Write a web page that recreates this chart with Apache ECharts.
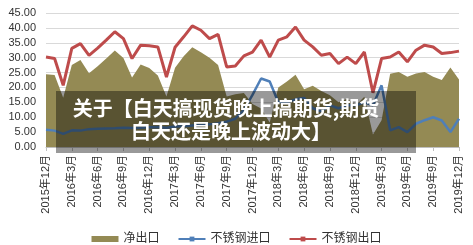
<!DOCTYPE html>
<html>
<head>
<meta charset="utf-8">
<script src="https://cdn.jsdelivr.net/npm/echarts@6/dist/echarts.min.js"></script>
<style>
  html, body { margin: 0; padding: 0; background: #fff; }
  #chart { width: 473px; height: 245px; }
</style>
</head>
<body>
<div id="chart"></div>
<script>
// months, 2015-12 .. 2019-12
var categories = [
  '2015年12月',
  '2016年1月', '2016年2月', '2016年3月', '2016年4月', '2016年5月', '2016年6月',
  '2016年7月', '2016年8月', '2016年9月', '2016年10月', '2016年11月', '2016年12月',
  '2017年1月', '2017年2月', '2017年3月', '2017年4月', '2017年5月', '2017年6月',
  '2017年7月', '2017年8月', '2017年9月', '2017年10月', '2017年11月', '2017年12月',
  '2018年1月', '2018年2月', '2018年3月', '2018年4月', '2018年5月', '2018年6月',
  '2018年7月', '2018年8月', '2018年9月', '2018年10月', '2018年11月', '2018年12月',
  '2019年1月', '2019年2月', '2019年3月', '2019年4月', '2019年5月', '2019年6月',
  '2019年7月', '2019年8月', '2019年9月', '2019年10月', '2019年11月', '2019年12月'
]

var netExport = [
  24.4, 24.2, 16.5, 27.5, 29.2, 24.8, 27.1, 29.7, 32.4, 29.9, 23.3, 27.7, 26.5,
  24.0, 17.0, 26.6, 30.5, 33.5, 31.8, 30.0, 27.5, 17.0, 17.7, 18.1, 14.4,
  12.9, 8.2, 20.0, 22.0, 24.3, 19.4, 20.6, 18.8, 17.4, 15.0, 16.2, 14.0,
  16.9, 4.2, 9.0, 24.6, 25.2, 23.6, 24.7, 25.2, 23.6, 22.5, 26.7, 22.7
]

var importData = [
  5.8, 5.5, 4.4, 5.6, 5.5, 6.0, 6.1, 6.2, 6.3, 6.5, 6.4, 6.5, 6.6,
  6.7, 6.5, 6.9, 7.0, 7.2, 7.4, 7.6, 8.0, 8.5, 9.5, 12.5, 17.5,
  23.0, 22.0, 15.0, 15.0, 16.0, 16.5, 13.0, 12.0, 14.0, 13.0, 14.0, 14.0,
  15.0, 14.0, 20.7, 5.6, 6.7, 5.0, 7.8, 9.0, 10.0, 8.9, 5.0, 9.5
]

var exportData = [
  30.2, 29.7, 20.7, 33.1, 34.7, 30.8, 33.2, 35.9, 38.7, 36.4, 29.7, 34.2, 34.0,
  33.6, 23.5, 33.5, 37.0, 40.7, 39.2, 36.4, 37.8, 26.9, 27.2, 30.6, 31.9,
  35.9, 30.2, 35.9, 37.0, 40.3, 35.9, 33.6, 30.8, 31.4, 28.0, 30.2, 28.0,
  31.9, 18.2, 29.7, 30.2, 31.9, 28.6, 32.5, 34.2, 33.6, 31.4, 31.7, 32.2
]

var seriesNames = ['净出口', '不锈钢进口', '不锈钢出口']
var seriesColors = ['#948a54', '#4f7fb8', '#be4b4b']
var overlayLines = ['关于【白天搞现货晚上搞期货,期货', '白天还是晚上波动大】']

var font = '"Liberation Sans", "Noto Sans CJK SC", sans-serif'
var chart = echarts.init(document.getElementById('chart'))

chart.setOption({
  animation: false,
  grid: {
    left: 46,
    right: 14,
    top: 13,
    bottom: 98
  },
  legend: {
    top: 228,
    left: 'center',
    itemWidth: 27,
    itemHeight: 6,
    itemGap: 18,
    itemStyle: { borderWidth: 0 },
    textStyle: { fontFamily: font, fontSize: 12, color: '#333' },
    data: [
      { name: seriesNames[0], icon: 'rect' },
      { name: seriesNames[1] },
      { name: seriesNames[2] }
    ]
  },
  xAxis: {
    type: 'category',
    data: categories,
    boundaryGap: false,
    axisLine: { lineStyle: { color: '#bfbfbf' } },
    axisTick: { interval: 2, length: 4, lineStyle: { color: '#bfbfbf' } },
    axisLabel: {
      interval: 2,
      rotate: 90,
      margin: 8,
      fontFamily: font,
      fontSize: 11,
      color: '#333'
    },
    splitLine: { show: false }
  },
  yAxis: {
    type: 'value',
    min: 0,
    max: 45,
    interval: 5,
    axisLine: { show: false },
    axisTick: { show: false },
    axisLabel: {
      margin: 10,
      fontFamily: font,
      fontSize: 11,
      color: '#333',
      formatter: function (v) { return v.toFixed(2) }
    },
    splitLine: { lineStyle: { color: '#d9d9d9' } }
  },
  series: [
    {
      name: seriesNames[0],
      type: 'line',
      data: netExport,
      symbol: 'none',
      color: seriesColors[0],
      lineStyle: { width: 0 },
      areaStyle: { color: seriesColors[0], opacity: 1 }
    },
    {
      name: seriesNames[1],
      type: 'line',
      data: importData,
      // flat marker, only shows up in the legend and hides inside its line
      symbol: 'rect',
      symbolSize: [10, 2],
      showSymbol: false,
      color: seriesColors[1],
      itemStyle: { color: seriesColors[1], borderWidth: 0 },
      lineStyle: { width: 2.5, color: seriesColors[1] }
    },
    {
      name: seriesNames[2],
      type: 'line',
      data: exportData,
      symbol: 'rect',
      symbolSize: [10, 2],
      showSymbol: false,
      color: seriesColors[2],
      itemStyle: { color: seriesColors[2], borderWidth: 0 },
      lineStyle: { width: 3, color: seriesColors[2] }
    }
  ],
  graphic: [
    {
      type: 'rect',
      z: 100,
      shape: { x: 56, y: 91, width: 360, height: 62 },
      style: { fill: 'rgba(0,0,0,0.4)' }
    },
    {
      type: 'text',
      z: 101,
      x: 226,
      y: 108,
      style: {
        text: overlayLines[0],
        fill: '#fff',
        font: 'bold 20px "Noto Sans CJK SC"',
        textAlign: 'center',
        textVerticalAlign: 'middle'
      }
    },
    {
      type: 'text',
      z: 101,
      x: 131,
      y: 131.5,
      style: {
        text: overlayLines[1],
        fill: '#fff',
        font: 'bold 20px "Noto Sans CJK SC"',
        textAlign: 'left',
        textVerticalAlign: 'middle'
      }
    }
  ]
})
</script>
</body>
</html>
